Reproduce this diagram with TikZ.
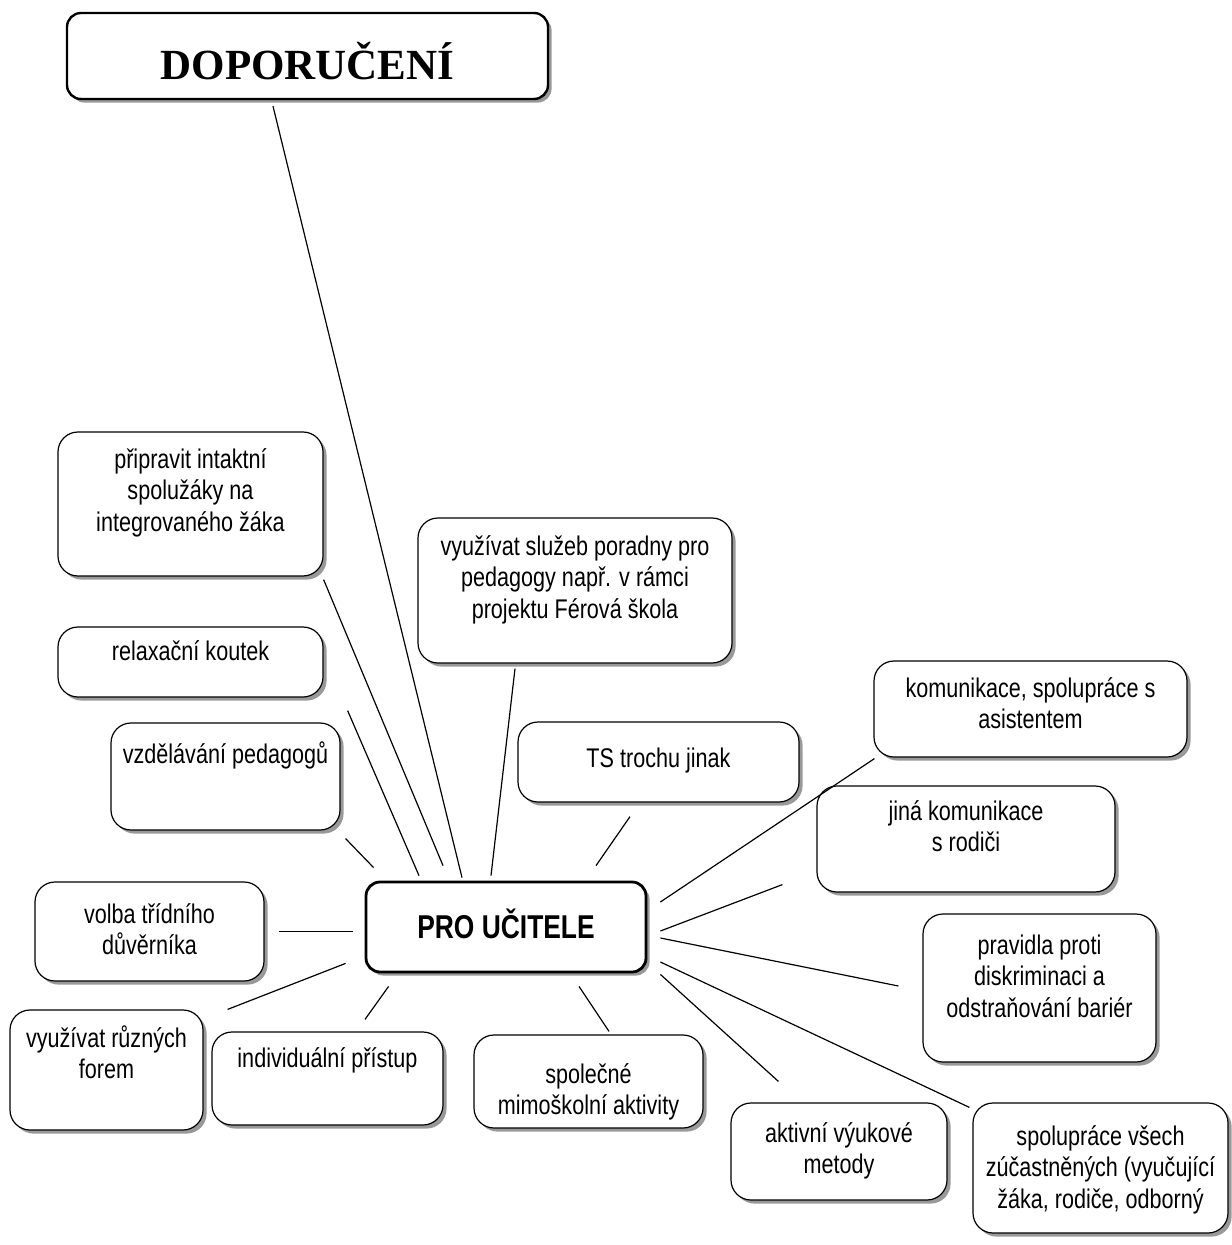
\documentclass[tikz,border=0pt]{standalone}
\usepackage{fontspec}
\setmainfont[FakeStretch=0.8]{Liberation Sans}
\newfontfamily\titlefont{Liberation Serif}
\usetikzlibrary{shadows}

% text block of a bubble: width, height, first baseline, text
\newcommand{\bubtext}[4]{\parbox[c][#2][t]{#1}{\centering\rule{0pt}{#3}#4}}

\tikzset{
    bubble/.style={draw, fill=white, line width=0.6pt, rounded corners=10pt, inner sep=0pt,
        drop shadow={shadow xshift=1.8pt, shadow yshift=-1.8pt, fill=black!40, opacity=1},
        font={\fontsize{13.5pt}{15.75pt}\selectfont}},
    hub/.style={bubble, line width=1.4pt, rounded corners=7pt,
        font={\fontsize{16.5pt}{18pt}\selectfont\bfseries}},
    headbox/.style={bubble, line width=1.2pt, rounded corners=7pt,
        font={\titlefont\fontsize{21.5pt}{24pt}\selectfont\bfseries}},
    spoke/.style={draw, line width=0.6pt}
}

\begin{document}
\begin{tikzpicture}[x=0.5pt, y=-0.5pt]

\useasboundingbox (0,0) rectangle (1231,1245);

% Title
\node[headbox] (doporuceni) at (307.5,56) {\bubtext{240.5pt}{43pt}{33.5pt}{DOPORUČENÍ}};

% Centre
\node[hub] (ucitel) at (506,927) {\bubtext{140pt}{45pt}{28pt}{PRO UČITELE}};

% Left side
\node[bubble] (pripravit) at (190.5,504) {\bubtext{132.5pt}{72pt}{18pt}{připravit intaktní\\ spolužáky na\\ integrovaného žáka}};
\node[bubble] (relaxace) at (190.5,662) {\bubtext{132.5pt}{35pt}{16.5pt}{relaxační koutek}};
\node[bubble] (vzdelavani) at (225.5,776.5) {\bubtext{114.5pt}{53.5pt}{20pt}{vzdělávání pedagogů}};
\node[bubble] (volba) at (149.5,931.5) {\bubtext{114.5pt}{49.5pt}{20.5pt}{volba třídního\\ důvěrníka}};
\node[bubble] (formy) at (106.5,1070) {\bubtext{96.5pt}{60pt}{18.5pt}{využívat různých\\ forem}};
\node[bubble] (pristup) at (327.5,1078.5) {\bubtext{115.5pt}{46.5pt}{17.5pt}{individuální přístup}};

% Upper middle
\node[bubble] (poradna) at (575,590.5) {\bubtext{157pt}{72.5pt}{18.5pt}{využívat služeb poradny pro\\ pedagogy např. v rámci\\ projektu Férová škola}};
\node[bubble] (ts) at (658.5,762) {\bubtext{140.5pt}{40pt}{22.5pt}{TS trochu jinak}};

% Right side
\node[bubble] (asistent) at (1030.5,709) {\bubtext{156.5pt}{48pt}{18pt}{komunikace, spolupráce s\\ asistentem}};
\node[bubble] (rodice) at (966,839) {\bubtext{149pt}{53pt}{17pt}{jiná komunikace\\ s rodiči}};
\node[bubble] (pravidla) at (1039.5,988) {\bubtext{116.5pt}{74pt}{20pt}{pravidla proti\\ diskriminaci a\\ odstraňování bariér}};

% Bottom
\node[bubble] (aktivity) at (588.5,1081.5) {\bubtext{114.5pt}{46.5pt}{24pt}{společné\\ mimoškolní aktivity}};
\node[bubble] (metody) at (839,1151.5) {\bubtext{108pt}{48.5pt}{19.5pt}{aktivní výukové\\ metody}};
\node[bubble] (spoluprace) at (1100.5,1168) {\bubtext{127.5pt}{65pt}{21pt}{spolupráce všech\\ zúčastněných (vyučující\\ žáka, rodiče, odborný}};

% Spokes
\draw[spoke] ([shift={(-34.5,6)}]doporuceni.south) -- ([shift={(-44,-3)}]ucitel.north);
\draw[spoke] ([shift={(0,3)}]pripravit.south east) -- ([shift={(-63,-15)}]ucitel.north);
\draw[spoke] ([shift={(24,13)}]relaxace.south east) -- ([shift={(-87,-5)}]ucitel.north);
\draw[spoke] ([shift={(5,8)}]vzdelavani.south east) -- ([shift={(9,-13)}]ucitel.north west);
\draw[spoke] ([shift={(14,0)}]volba.east) -- ([shift={(-12,4.5)}]ucitel.west);
\draw[spoke] ([shift={(24,0)}]formy.north east) -- ([shift={(-19,-10)}]ucitel.south west);
\draw[spoke] ([shift={(37.5,-12)}]pristup.north) -- ([shift={(24,13)}]ucitel.south west);
\draw[spoke] ([shift={(73,13)}]ucitel.south) -- ([shift={(20.5,-3)}]aktivity.north);
\draw[spoke] ([shift={(13,1)}]ucitel.south east) -- ([shift={(48,-21)}]metody.north west);
\draw[spoke] ([shift={(13,35)}]ucitel.east) -- ([shift={(-3,5)}]spoluprace.north west);
\draw[spoke] ([shift={(13,11)}]ucitel.east) -- ([shift={(-24,-2)}]pravidla.west);
\draw[spoke] ([shift={(13,4)}]ucitel.east) -- ([shift={(-34,-8)}]rodice.south west);
\draw[spoke] ([shift={(13,-25)}]ucitel.east) -- ([shift={(1,1)}]asistent.south west);
\draw[spoke] ([shift={(90,-15)}]ucitel.north) -- ([shift={(-28.5,14)}]ts.south);
\draw[spoke] ([shift={(-60,5)}]poradna.south) -- ([shift={(-15,-5)}]ucitel.north);

\end{tikzpicture}
\end{document}
